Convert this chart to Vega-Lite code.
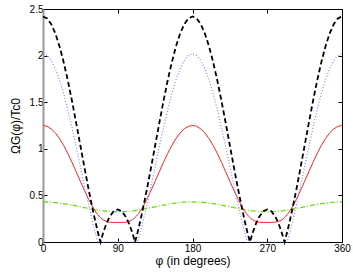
{
  "$schema": "https://vega.github.io/schema/vega-lite/v6.json",
  "width": 299,
  "height": 233,
  "autosize": {"type": "none"},
  "padding": {"left": 43, "top": 9, "right": 11, "bottom": 30},
  "background": "white",
  "config": {
    "view": {"stroke": null},
    "font": "Liberation Sans",
    "axis": {"grid": false, "labelFont": "Liberation Sans", "titleFont": "Liberation Sans", "labelFontSize": 10, "titleFontSize": 12, "titleFontWeight": "normal", "labelColor": "black", "titleColor": "black", "domainColor": "black", "tickColor": "black", "tickSize": -4}
  },
  "data": {"values": [
    {"phi": 0, "black": 2.42, "blue": 2.02, "red": 1.25, "green": 0.43},
    {"phi": 5, "black": 2.399, "blue": 2.002, "red": 1.241, "green": 0.429},
    {"phi": 10, "black": 2.336, "blue": 1.947, "red": 1.213, "green": 0.427},
    {"phi": 15, "black": 2.234, "blue": 1.858, "red": 1.169, "green": 0.423},
    {"phi": 20, "black": 2.096, "blue": 1.737, "red": 1.108, "green": 0.418},
    {"phi": 25, "black": 1.925, "blue": 1.588, "red": 1.034, "green": 0.411},
    {"phi": 30, "black": 1.728, "blue": 1.415, "red": 0.948, "green": 0.404},
    {"phi": 35, "black": 1.509, "blue": 1.224, "red": 0.853, "green": 0.396},
    {"phi": 40, "black": 1.275, "blue": 1.02, "red": 0.753, "green": 0.387},
    {"phi": 45, "black": 1.035, "blue": 0.81, "red": 0.651, "green": 0.378},
    {"phi": 50, "black": 0.795, "blue": 0.6, "red": 0.551, "green": 0.368},
    {"phi": 55, "black": 0.561, "blue": 0.396, "red": 0.457, "green": 0.36},
    {"phi": 60, "black": 0.343, "blue": 0.205, "red": 0.373, "green": 0.351},
    {"phi": 62.5, "black": 0.241, "blue": 0.116, "red": 0.336, "green": 0.347},
    {"phi": 65, "black": 0.145, "blue": 0.032, "red": 0.304, "green": 0.344},
    {"phi": 66, "black": 0.108, "blue": 0, "red": 0.293, "green": 0.342},
    {"phi": 67.5, "black": 0.056, "blue": 0, "red": 0.277, "green": 0.34},
    {"phi": 69.2, "black": 0, "blue": 0, "red": 0.262, "green": 0.338},
    {"phi": 70, "black": 0.026, "blue": 0, "red": 0.255, "green": 0.337},
    {"phi": 72.5, "black": 0.1, "blue": 0, "red": 0.238, "green": 0.335},
    {"phi": 75, "black": 0.164, "blue": 0, "red": 0.226, "green": 0.332},
    {"phi": 77.5, "black": 0.22, "blue": 0, "red": 0.218, "green": 0.33},
    {"phi": 80, "black": 0.266, "blue": 0, "red": 0.213, "green": 0.328},
    {"phi": 85, "black": 0.329, "blue": 0, "red": 0.21, "green": 0.326},
    {"phi": 90, "black": 0.35, "blue": 0, "red": 0.21, "green": 0.325},
    {"phi": 95, "black": 0.329, "blue": 0, "red": 0.21, "green": 0.326},
    {"phi": 100, "black": 0.266, "blue": 0, "red": 0.213, "green": 0.328},
    {"phi": 102.5, "black": 0.22, "blue": 0, "red": 0.218, "green": 0.33},
    {"phi": 105, "black": 0.164, "blue": 0, "red": 0.226, "green": 0.332},
    {"phi": 107.5, "black": 0.1, "blue": 0, "red": 0.238, "green": 0.335},
    {"phi": 110, "black": 0.026, "blue": 0, "red": 0.255, "green": 0.337},
    {"phi": 110.8, "black": 0, "blue": 0, "red": 0.262, "green": 0.338},
    {"phi": 112.5, "black": 0.056, "blue": 0, "red": 0.277, "green": 0.34},
    {"phi": 114, "black": 0.108, "blue": 0, "red": 0.293, "green": 0.342},
    {"phi": 115, "black": 0.145, "blue": 0.032, "red": 0.304, "green": 0.344},
    {"phi": 117.5, "black": 0.241, "blue": 0.116, "red": 0.336, "green": 0.347},
    {"phi": 120, "black": 0.343, "blue": 0.205, "red": 0.373, "green": 0.351},
    {"phi": 125, "black": 0.561, "blue": 0.396, "red": 0.457, "green": 0.36},
    {"phi": 130, "black": 0.795, "blue": 0.6, "red": 0.551, "green": 0.368},
    {"phi": 135, "black": 1.035, "blue": 0.81, "red": 0.651, "green": 0.378},
    {"phi": 140, "black": 1.275, "blue": 1.02, "red": 0.753, "green": 0.387},
    {"phi": 145, "black": 1.509, "blue": 1.224, "red": 0.853, "green": 0.396},
    {"phi": 150, "black": 1.728, "blue": 1.415, "red": 0.948, "green": 0.404},
    {"phi": 155, "black": 1.925, "blue": 1.588, "red": 1.034, "green": 0.411},
    {"phi": 160, "black": 2.096, "blue": 1.737, "red": 1.108, "green": 0.418},
    {"phi": 165, "black": 2.234, "blue": 1.858, "red": 1.169, "green": 0.423},
    {"phi": 170, "black": 2.336, "blue": 1.947, "red": 1.213, "green": 0.427},
    {"phi": 175, "black": 2.399, "blue": 2.002, "red": 1.241, "green": 0.429},
    {"phi": 180, "black": 2.42, "blue": 2.02, "red": 1.25, "green": 0.43},
    {"phi": 185, "black": 2.399, "blue": 2.002, "red": 1.241, "green": 0.429},
    {"phi": 190, "black": 2.336, "blue": 1.947, "red": 1.213, "green": 0.427},
    {"phi": 195, "black": 2.234, "blue": 1.858, "red": 1.169, "green": 0.423},
    {"phi": 200, "black": 2.096, "blue": 1.737, "red": 1.108, "green": 0.418},
    {"phi": 205, "black": 1.925, "blue": 1.588, "red": 1.034, "green": 0.411},
    {"phi": 210, "black": 1.728, "blue": 1.415, "red": 0.948, "green": 0.404},
    {"phi": 215, "black": 1.509, "blue": 1.224, "red": 0.853, "green": 0.396},
    {"phi": 220, "black": 1.275, "blue": 1.02, "red": 0.753, "green": 0.387},
    {"phi": 225, "black": 1.035, "blue": 0.81, "red": 0.651, "green": 0.378},
    {"phi": 230, "black": 0.795, "blue": 0.6, "red": 0.551, "green": 0.368},
    {"phi": 235, "black": 0.561, "blue": 0.396, "red": 0.457, "green": 0.36},
    {"phi": 240, "black": 0.343, "blue": 0.205, "red": 0.373, "green": 0.351},
    {"phi": 242.5, "black": 0.241, "blue": 0.116, "red": 0.336, "green": 0.347},
    {"phi": 245, "black": 0.145, "blue": 0.032, "red": 0.304, "green": 0.344},
    {"phi": 246, "black": 0.108, "blue": 0, "red": 0.293, "green": 0.342},
    {"phi": 247.5, "black": 0.056, "blue": 0, "red": 0.277, "green": 0.34},
    {"phi": 249.2, "black": 0, "blue": 0, "red": 0.262, "green": 0.338},
    {"phi": 250, "black": 0.026, "blue": 0, "red": 0.255, "green": 0.337},
    {"phi": 252.5, "black": 0.1, "blue": 0, "red": 0.238, "green": 0.335},
    {"phi": 255, "black": 0.164, "blue": 0, "red": 0.226, "green": 0.332},
    {"phi": 257.5, "black": 0.22, "blue": 0, "red": 0.218, "green": 0.33},
    {"phi": 260, "black": 0.266, "blue": 0, "red": 0.213, "green": 0.328},
    {"phi": 265, "black": 0.329, "blue": 0, "red": 0.21, "green": 0.326},
    {"phi": 270, "black": 0.35, "blue": 0, "red": 0.21, "green": 0.325},
    {"phi": 275, "black": 0.329, "blue": 0, "red": 0.21, "green": 0.326},
    {"phi": 280, "black": 0.266, "blue": 0, "red": 0.213, "green": 0.328},
    {"phi": 282.5, "black": 0.22, "blue": 0, "red": 0.218, "green": 0.33},
    {"phi": 285, "black": 0.164, "blue": 0, "red": 0.226, "green": 0.332},
    {"phi": 287.5, "black": 0.1, "blue": 0, "red": 0.238, "green": 0.335},
    {"phi": 290, "black": 0.026, "blue": 0, "red": 0.255, "green": 0.337},
    {"phi": 290.8, "black": 0, "blue": 0, "red": 0.262, "green": 0.338},
    {"phi": 292.5, "black": 0.056, "blue": 0, "red": 0.277, "green": 0.34},
    {"phi": 294, "black": 0.108, "blue": 0, "red": 0.293, "green": 0.342},
    {"phi": 295, "black": 0.145, "blue": 0.032, "red": 0.304, "green": 0.344},
    {"phi": 297.5, "black": 0.241, "blue": 0.116, "red": 0.336, "green": 0.347},
    {"phi": 300, "black": 0.343, "blue": 0.205, "red": 0.373, "green": 0.351},
    {"phi": 305, "black": 0.561, "blue": 0.396, "red": 0.457, "green": 0.36},
    {"phi": 310, "black": 0.795, "blue": 0.6, "red": 0.551, "green": 0.368},
    {"phi": 315, "black": 1.035, "blue": 0.81, "red": 0.651, "green": 0.378},
    {"phi": 320, "black": 1.275, "blue": 1.02, "red": 0.753, "green": 0.387},
    {"phi": 325, "black": 1.509, "blue": 1.224, "red": 0.853, "green": 0.396},
    {"phi": 330, "black": 1.728, "blue": 1.415, "red": 0.948, "green": 0.404},
    {"phi": 335, "black": 1.925, "blue": 1.588, "red": 1.034, "green": 0.411},
    {"phi": 340, "black": 2.096, "blue": 1.737, "red": 1.108, "green": 0.418},
    {"phi": 345, "black": 2.234, "blue": 1.858, "red": 1.169, "green": 0.423},
    {"phi": 350, "black": 2.336, "blue": 1.947, "red": 1.213, "green": 0.427},
    {"phi": 355, "black": 2.399, "blue": 2.002, "red": 1.241, "green": 0.429},
    {"phi": 360, "black": 2.42, "blue": 2.02, "red": 1.25, "green": 0.43}
  ]},
  "resolve": {"axis": {"x": "independent", "y": "independent"}},
  "layer": [
    {
      "mark": {"type": "line", "color": "#66dd11", "strokeWidth": 1.3, "strokeDash": [5, 2, 1, 2]},
      "encoding": {
        "x": {"field": "phi", "type": "quantitative", "scale": {"domain": [0, 360], "nice": false},
              "axis": {"orient": "bottom", "values": [0, 90, 180, 270, 360], "title": "φ (in degrees)", "labelPadding": 5, "titlePadding": 2, "labelFlush": false}},
        "y": {"field": "green", "type": "quantitative", "scale": {"domain": [0, 2.5], "nice": false},
              "axis": {"orient": "left", "values": [0, 0.5, 1, 1.5, 2, 2.5], "format": "~g", "title": "ΩG(φ)/Tc0", "labelPadding": 4, "titlePadding": 7, "labelFlush": false, "domainColor": "#999999", "domainWidth": 2}}
      }
    },
    {
      "mark": {"type": "line", "color": "#ff2020", "strokeWidth": 1},
      "encoding": {
        "x": {"field": "phi", "type": "quantitative", "axis": {"orient": "top", "values": [0, 90, 180, 270, 360], "labels": false, "title": null}},
        "y": {"field": "red", "type": "quantitative", "axis": {"orient": "right", "values": [0, 0.5, 1, 1.5, 2, 2.5], "labels": false, "title": null}}
      }
    },
    {
      "mark": {"type": "line", "color": "#7a7aff", "strokeWidth": 1.1, "strokeDash": [1, 2]},
      "encoding": {
        "x": {"field": "phi", "type": "quantitative", "axis": null},
        "y": {"field": "blue", "type": "quantitative", "axis": null}
      }
    },
    {
      "mark": {"type": "line", "color": "black", "strokeWidth": 1.8, "strokeDash": [5, 3]},
      "encoding": {
        "x": {"field": "phi", "type": "quantitative", "axis": null},
        "y": {"field": "black", "type": "quantitative", "axis": null}
      }
    }
  ]
}
